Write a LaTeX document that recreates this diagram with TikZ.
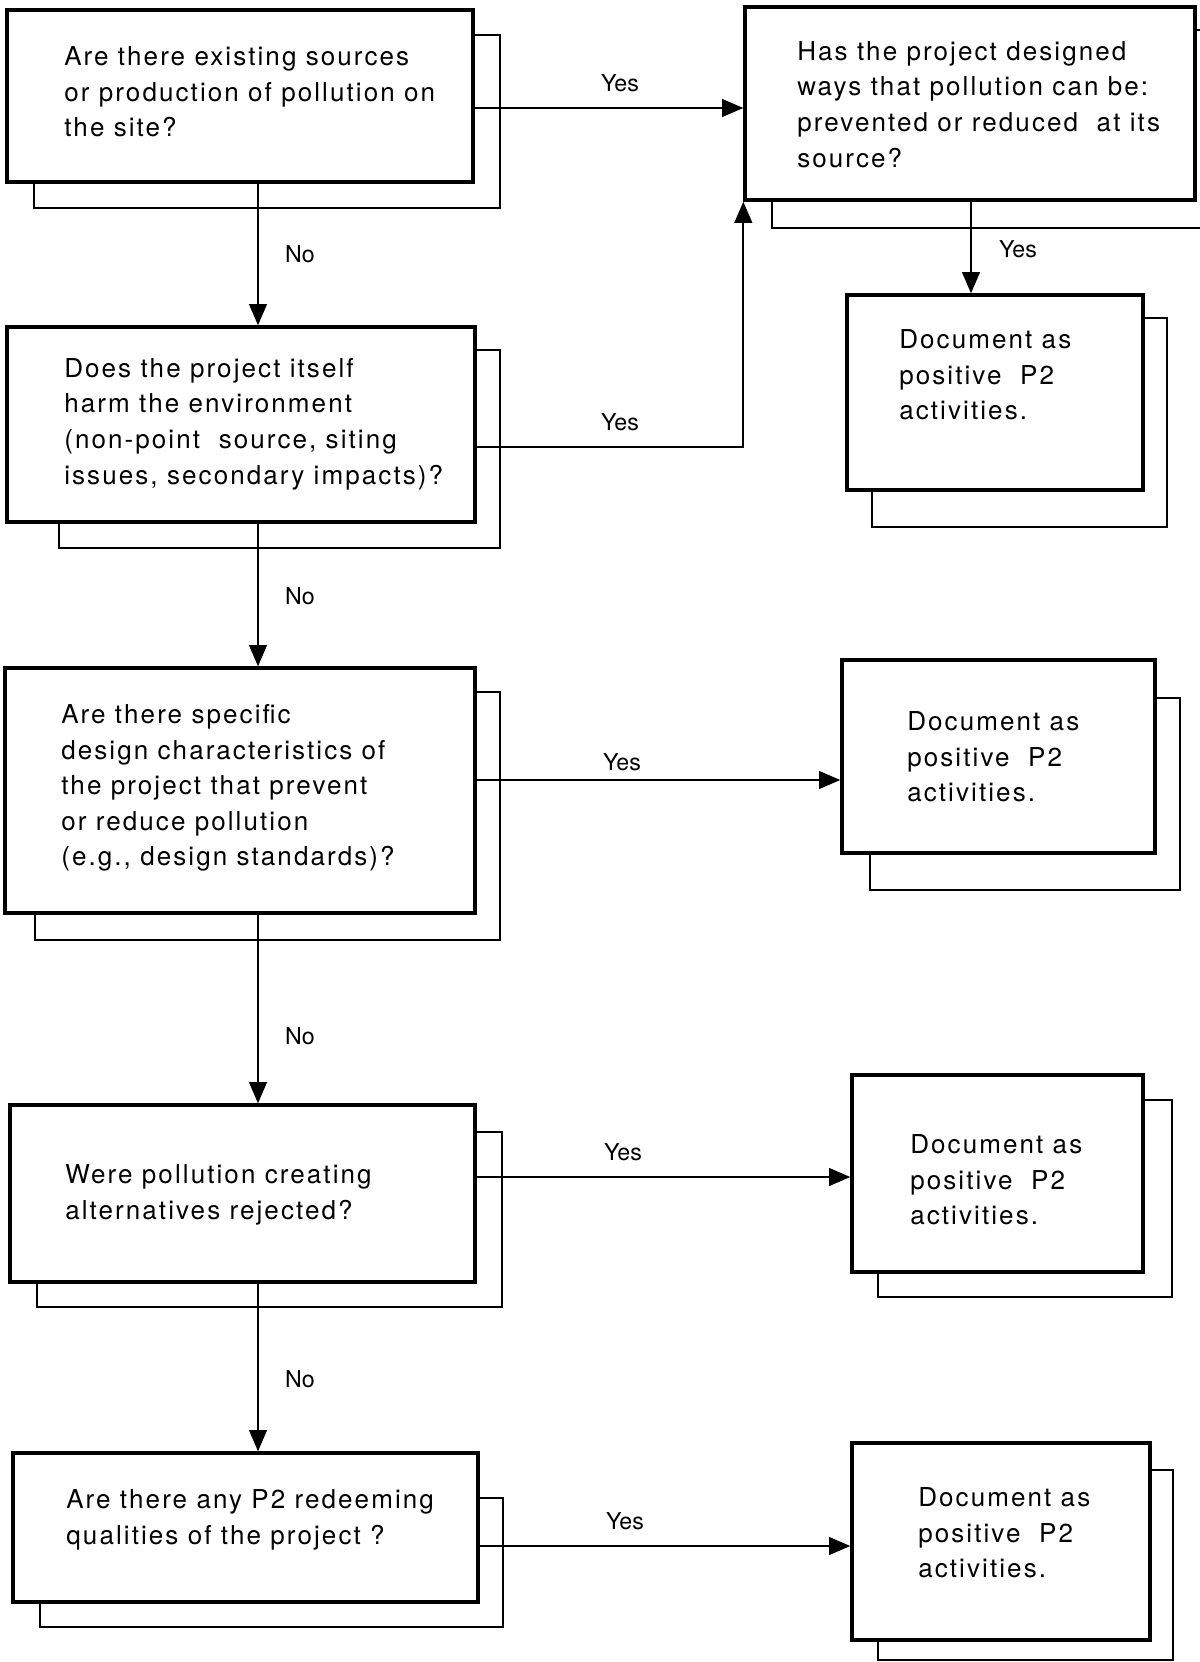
\documentclass[tikz,border=0pt]{standalone}
\usepackage{fontspec}
\setmainfont{TeX Gyre Heros}
\newfontfamily\boxfont[LetterSpace=8]{TeX Gyre Heros}
\usetikzlibrary{arrows.meta,fit}
\begin{document}
\begin{tikzpicture}[x=0.025cm,y=-0.025cm,
  frontbox/.style={draw, line width=2.4pt, fill=white, inner sep=0pt},
  backbox/.style={draw, line width=1.4pt, fill=white, inner sep=0pt},
  txt/.style={font=\boxfont\fontsize{18.5}{25.3}\selectfont, align=left, anchor=west, inner sep=0pt},
  lab/.style={font=\fontsize{16.5}{20}\selectfont, inner sep=0pt},
  conn/.style={line width=1.5pt},
  arr/.style={conn, -{Triangle[length=15pt,width=12.5pt]}}]
\useasboundingbox (0,0) rectangle (1200,1662);
\clip (0,0) rectangle (1200,1662);
% back boxes
\node[backbox, fit={(34,35) (500,208)}] (b1s) {};
\node[backbox, fit={(59,350) (500,548)}] (b2s) {};
\node[backbox, fit={(35,692) (500,940)}] (b3s) {};
\node[backbox, fit={(37,1132) (502,1307)}] (b4s) {};
\node[backbox, fit={(40,1498) (503,1627)}] (b5s) {};
\node[backbox, fit={(772,30) (1230,228)}] (As) {};
\node[backbox, fit={(872,318) (1167,527)}] (Bs) {};
\node[backbox, fit={(870,698) (1180,890)}] (Cs) {};
\node[backbox, fit={(878,1100) (1172,1297)}] (Ds) {};
\node[backbox, fit={(878,1470) (1173,1660)}] (Es) {};
% front boxes
\node[frontbox, fit={(7,10) (473,182)}] (b1) {};
\node[frontbox, fit={(7,327) (475,522)}] (b2) {};
\node[frontbox, fit={(5,668) (475,913)}] (b3) {};
\node[frontbox, fit={(10,1105) (475,1282)}] (b4) {};
\node[frontbox, fit={(13,1453) (478,1602)}] (b5) {};
\node[frontbox, fit={(745,7) (1195,200)}] (A) {};
\node[frontbox, fit={(847,295) (1143,490)}] (B) {};
\node[frontbox, fit={(842,660) (1155,853)}] (C) {};
\node[frontbox, fit={(852,1075) (1143,1272)}] (D) {};
\node[frontbox, fit={(852,1443) (1150,1640)}] (E) {};
% texts
\node[txt] (t1) at (64,92) {Are there existing sources\\or production of pollution on\\the site?};
\node[txt] (tA) at (797,104.5) {Has the project designed\\ways that pollution can be:\\prevented or reduced~ at its\\source?};
\node[txt] (tB) at (899,375) {Document as\\positive~ P2\\activities.};
\node[txt] (t2) at (64,424) {Does the project itself\\harm the environment\\(non-point~ source, siting\\issues, secondary impacts)?};
\node[txt] (t3) at (61,788) {Are there specific\\design characteristics of\\the project that prevent\\or reduce pollution\\(e.g., design standards)?};
\node[txt] (tC) at (907,757) {Document as\\positive~ P2\\activities.};
\node[txt] (t4) at (65,1195) {Were pollution creating\\alternatives rejected?};
\node[txt] (tD) at (910,1180) {Document as\\positive~ P2\\activities.};
\node[txt] (t5) at (66,1520) {Are there any P2 redeeming\\qualities of the project ?};
\node[txt] (tE) at (918,1533) {Document as\\positive~ P2\\activities.};
% connectors
\draw[arr] (b1.east |- 0,108) -- (A.west |- 0,108);
\draw[arr] (b2.east |- 0,447) -| (A.south west);
\draw[arr] (A.south -| 971,0) -- (B.north -| 971,0);
\draw[arr] (b1.south -| 258,0) -- (b2.north -| 258,0);
\draw[arr] (b2.south -| 258,0) -- (b3.north -| 258,0);
\draw[arr] (b3.south -| 258,0) -- (b4.north -| 258,0);
\draw[arr] (b4.south -| 258,0) -- (b5.north -| 258,0);
\draw[arr] (b3.east |- 0,780) -- (C.west |- 0,780);
\draw[arr] (b4.east |- 0,1177) -- (D.west |- 0,1177);
\draw[arr] (b5.east |- 0,1546) -- (E.west |- 0,1546);
% labels
\node[lab] (y1) at (620,83) {Yes};
\node[lab] (n1) at (300,254) {No};
\node[lab] (yA) at (1018,249) {Yes};
\node[lab] (y2) at (620,422) {Yes};
\node[lab] (n2) at (300,596) {No};
\node[lab] (y3) at (622,762) {Yes};
\node[lab] (n3) at (300,1036) {No};
\node[lab] (y4) at (623,1152) {Yes};
\node[lab] (n4) at (300,1379) {No};
\node[lab] (y5) at (625,1521) {Yes};
\end{tikzpicture}
\end{document}
